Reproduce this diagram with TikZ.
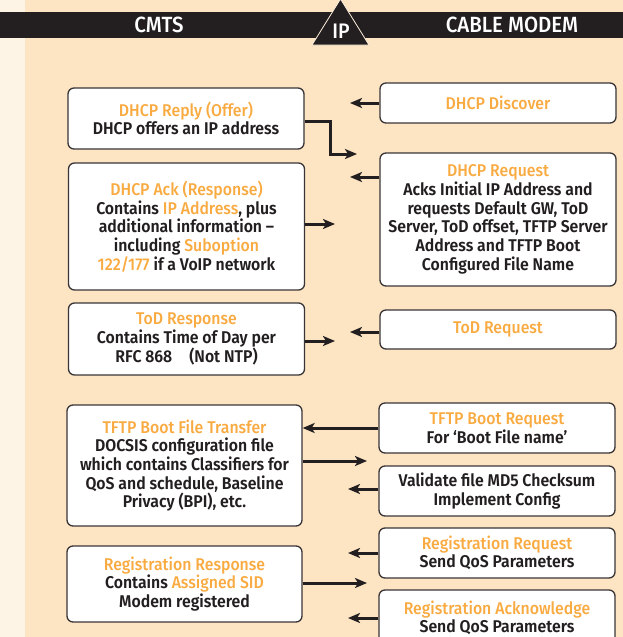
\documentclass[tikz,border=0pt]{standalone}
\usepackage{fontspec}
\setmainfont{Fira Sans Medium}[FakeStretch=0.93,BoldFont={Fira Sans SemiBold}]
\usetikzlibrary{arrows.meta}
\definecolor{cmpeach}{HTML}{FDE5C4}
\definecolor{cmcream}{HTML}{FEF4E6}
\definecolor{cmdark}{HTML}{231F20}
\definecolor{cmorange}{HTML}{F9AA40}
\newcommand\orng[1]{{\mdseries\color{cmorange}#1}}
\begin{document}
\begin{tikzpicture}[
				x=1pt,y=-1pt,
				every node/.style={
						font=\fontsize{17}{18.7}\selectfont\bfseries,
						text=cmdark,
					},
				msgbox/.style={
						draw=cmdark!90, line width=1.3pt, fill=white, rounded corners=6pt,
						minimum width=236pt, inner sep=0pt, align=center,
					},
				flow/.style={
						draw=cmdark, line width=3pt,
						-{Stealth[length=12pt,width=10pt,inset=3pt]},
					},
				head/.style={
						text=white, font=\fontsize{22}{24}\selectfont,
					},]
			\useasboundingbox (0,0) rectangle (623,637);
			\fill [cmpeach] (0,0) rectangle (623,637);
			\fill [cmcream] (0,0) rectangle (25,637);
			% header bar
			\fill [cmdark] (0,12) rectangle (623,38);
			\filldraw [fill=cmdark, draw=cmpeach!60!white, line width=0.8pt] (312,45) -- (340.5,-1) -- (369,45) -- cycle;
			\node[head] (cmts) at (159,25) {CMTS};
			\node[head] (modem) at (512,25) {CABLE MODEM};
			\node[head, font=\fontsize{21}{23}\selectfont] (ip) at (341,31) {IP};

			% left column: CMTS
			\node[msgbox, minimum height=61pt] (reply) at (186,118.5) {\orng{DHCP Reply (Offer)}\\DHCP offers an IP address};
			\node[msgbox, minimum height=127pt] (ack) at (186.5,226.5) {\orng{DHCP Ack (Response)}\\Contains \orng{IP Address}, plus\\additional information –\\including \orng{Suboption}\\\orng{122/177} if a VoIP network};
			\node[msgbox, minimum height=72pt] (todresp) at (186.5,339) {\orng{ToD Response}\\Contains Time of Day per\\RFC 868\quad(Not NTP)};
			\node[msgbox, minimum width=235pt, minimum height=121pt] (tftp) at (184.5,465.5) {\orng{TFTP Boot File Transfer}\\DOCSIS configuration file\\which contains Classifiers for\\QoS and schedule, Baseline\\Privacy (BPI), etc.};
			\node[msgbox, minimum width=235pt, minimum height=76pt] (regresp) at (184.5,584) {\orng{Registration Response}\\Contains \orng{Assigned SID}\\Modem registered};

			% right column: cable modem
			\node[msgbox, minimum height=40pt] (discover) at (498,103) {\orng{DHCP Discover}};
			\node[msgbox, minimum height=133pt] (request) at (498,219.5) {\orng{DHCP Request}\\Acks Initial IP Address and\\requests Default GW, ToD\\Server, ToD offset, TFTP Server\\Address and TFTP Boot\\Configured File Name};
			\node[msgbox, minimum height=39pt] (todreq) at (498,329.5) {\orng{ToD Request}};
			\node[msgbox, minimum height=50pt] (bootreq) at (497,428) {\orng{TFTP Boot Request}\\For ‘Boot File name’};
			\node[msgbox, minimum height=50pt] (validate) at (497,491) {Validate file MD5 Checksum\\Implement Config};
			\node[msgbox, minimum height=50pt] (regreq) at (497,553) {\orng{Registration Request}\\Send QoS Parameters};
			\node[msgbox, minimum height=56pt] (regack) at (497,618) {\orng{Registration Acknowledge}\\Send QoS Parameters};

			% free arrow ends
			\coordinate (discoverto) at (350,103);
			\coordinate (replybend) at (330,121);
			\coordinate (replyto) at (357,154);
			\coordinate (requestto) at (350,177);
			\coordinate (ackto) at (335,224);
			\coordinate (todreqto) at (350,332);
			\coordinate (todrespto) at (335,341);
			\coordinate (tftpto) at (367,461);
			\coordinate (validateto) at (348,489);
			\coordinate (regreqto) at (348,553);
			\coordinate (regrespto) at (367,583);
			\coordinate (regackto) at (348,618);

			\draw [flow] (discover.west |- discoverto) -- (discoverto);
			\draw [flow] (reply.east |- replybend) -- (replybend) |- (replyto);
			\draw [flow] (request.west |- requestto) -- (requestto);
			\draw [flow] (ack.east |- ackto) -- (ackto);
			\draw [flow] (todreq.west |- todreqto) -- (todreqto);
			\draw [flow] (todresp.east |- todrespto) -- (todrespto);
			\draw [flow] (bootreq.west) -- (bootreq.west -| tftp.east);
			\draw [flow] (tftp.east |- tftpto) -- (tftpto);
			\draw [flow] (validate.west |- validateto) -- (validateto);
			\draw [flow] (regreq.west |- regreqto) -- (regreqto);
			\draw [flow] (regresp.east |- regrespto) -- (regrespto);
			\draw [flow] (regack.west |- regackto) -- (regackto);
		\end{tikzpicture}
\end{document}
